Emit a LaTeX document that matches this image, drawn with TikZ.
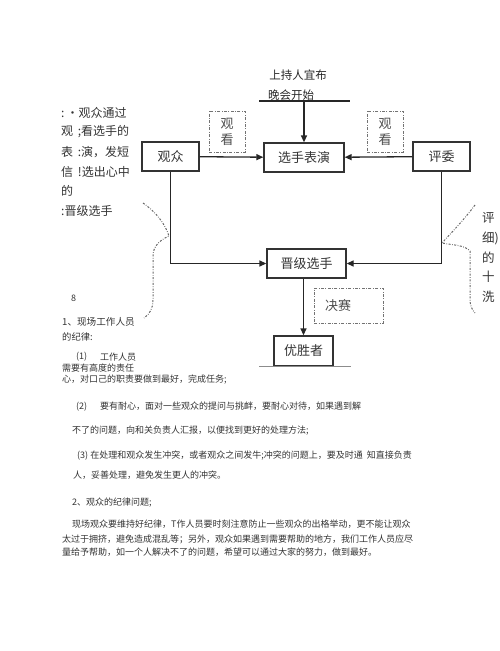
\documentclass[tikz,border=0pt]{standalone}
\usepackage{fontspec}
\setmainfont{Noto Sans CJK SC}
\usetikzlibrary{arrows.meta,positioning}

\begin{document}
\begin{tikzpicture}[
  x=1pt, y=-1pt,
  box/.style={draw=black!80, line width=1.3pt, minimum height=29pt,
              inner sep=0pt, font=\fontsize{13}{13}\selectfont, text=black!80},
  tagbox/.style={draw=black!55, line width=0.8pt,
                 dash pattern=on 3pt off 1.5pt on 0.8pt off 1.5pt,
                 inner sep=0pt, font=\fontsize{13}{16}\selectfont, text=black!70},
  arr/.style={-{Triangle[length=7pt,width=6pt]}, line width=1.3pt, black!85},
  brace/.style={black!60, line width=1pt,
                dash pattern=on 2pt off 1.5pt on 0.7pt off 1.5pt},
  side/.style={anchor=west, inner sep=0pt, font=\fontsize{12}{12}\selectfont, text=black!80},
  body/.style={anchor=west, inner sep=0pt, font=\fontsize{9}{9}\selectfont, text=black!80}
]
\useasboundingbox (0,0) rectangle (500,651);

% flow chart
\node[font=\fontsize{11.5}{12}\selectfont, text=black!85] (host) at (298,75) {上持人宜布};
\node[font=\fontsize{11.5}{12}\selectfont, text=black!85] (start) at (291,95) {晚会开始};
\coordinate (barL) at (259,101);
\coordinate (barR) at (350,101);
\coordinate (drop) at (304,101);
\draw[line width=1.3pt, black!85] (barL) -- (barR);

\node[box, minimum width=80pt] (show) at (304,157.5) {选手表演};
\node[box, minimum width=57pt] (aud) at (170.5,156.5) {观众};
\node[box, minimum width=57pt] (judge) at (441.5,156.5) {评委};
\node[box, minimum width=79pt] (adv) at (306.5,263.5) {晋级选手};
\node[box, minimum width=59pt, minimum height=30pt] (win) at (303.5,351) {优胜者};

\node[tagbox, minimum width=36pt, minimum height=41pt, align=center] (lookL) at (227,131.5) {观\\看};
\node[tagbox, minimum width=36pt, minimum height=41pt, align=center] (lookR) at (385,131.5) {观\\看};
\node[tagbox, minimum width=69pt, minimum height=35pt,
      text width=47pt, inner xsep=11pt, align=left] (final) at (348.5,305.5) {决赛};

\draw[arr] (drop) -- (show.north);
\draw[arr] (aud) -- (show);
\draw[arr] (judge) -- (show);
\draw[arr] (aud.south) |- (adv.west);
\draw[arr] (judge.south) |- (adv.east);
\draw[arr] (adv.south -| win.north) -- (win.north);
\draw[black!45, line width=0.8pt] ([xshift=-14pt]win.south west) -- ([xshift=17pt]win.south east);

% dotted braces
\draw[brace] (143,203) .. controls (157,213) and (165,224) .. (169,236)
  .. controls (160,240) and (153,246) .. (153,256) -- (153,300)
  .. controls (153,308) and (150,314) .. (144,318);
\draw[brace] (475,205) .. controls (463,221) and (451,233) .. (442,243)
  .. controls (452,245) and (465,245) .. (470,251) -- (470,300)
  .. controls (470,305) and (472,310) .. (475,313);

% side notes
\node[side] (s1) at (61,113) {:\,•观众通过};
\node[side] (s2) at (61,132) {观\ \,;看选手的};
\node[side] (s3) at (61,152) {表\ \,:演，发短};
\node[side] (s4) at (61,172) {信\ \,!选出心中};
\node[side] (s5) at (61,191) {的};
\node[side] (s6) at (61,211) {:晋级选手};

\node[side, font=\fontsize{12.5}{13}\selectfont] (r1) at (482,218) {评};
\node[side, font=\fontsize{12.5}{13}\selectfont] (r2) at (482,238) {细)};
\node[side, font=\fontsize{12.5}{13}\selectfont] (r3) at (482,258) {的};
\node[side, font=\fontsize{12.5}{13}\selectfont] (r4) at (482,277) {十};
\node[side, font=\fontsize{12.5}{13}\selectfont] (r5) at (482,297) {洗};

% body text
\node[body] (n8) at (71,298) {8};
\node[body, font=\fontsize{9.6}{10}\selectfont] (b1) at (62,322) {1、现场工作人员};
\node[body, font=\fontsize{9.3}{10}\selectfont] (b2) at (62,337) {的纪律:};
\node[body] (b3a) at (76,357) {(1)};
\node[body] (b3b) at (100,357) {工作人员};
\node[body] (b4) at (62,368) {需要有高度的责任};
\node[body] (b5) at (62,380) {心，对口己的职责要做到最好，完成任务;};
\node[body] (b6a) at (76,407) {(2)};
\node[body] (b6b) at (100,406) {要有耐心，面对一些观众的提问与挑衅，要耐心对待，如果遇到解};
\node[body] (b7) at (72,431) {不了的问题，向和关负责人汇报，以便找到更好的处理方法;};
\node[body] (b8) at (77,456) {(3) 在处理和观众发生冲突，或者观众之间发牛;冲突的问题上，要及时通\ \ 知直接负责};
\node[body] (b9) at (73,475) {人，妥善处理，避免发生更人的冲突。};
\node[body] (b10) at (72,503) {2、观众的纪律问题;};
\node[body] (b11) at (72,524) {现场观众要维持好纪律，T作人员要时刻注意防止一些观众的出格举动，更不能让观众};
\node[body] (b12) at (62,539) {太过于拥挤，避免造成混乱等；另外，观众如果遇到需要帮助的地方，我们工作人员应尽};
\node[body] (b13) at (62,552) {量给予帮助，如一个人解决不了的问题，希望可以通过大家的努力，做到最好。};
\end{tikzpicture}
\end{document}
